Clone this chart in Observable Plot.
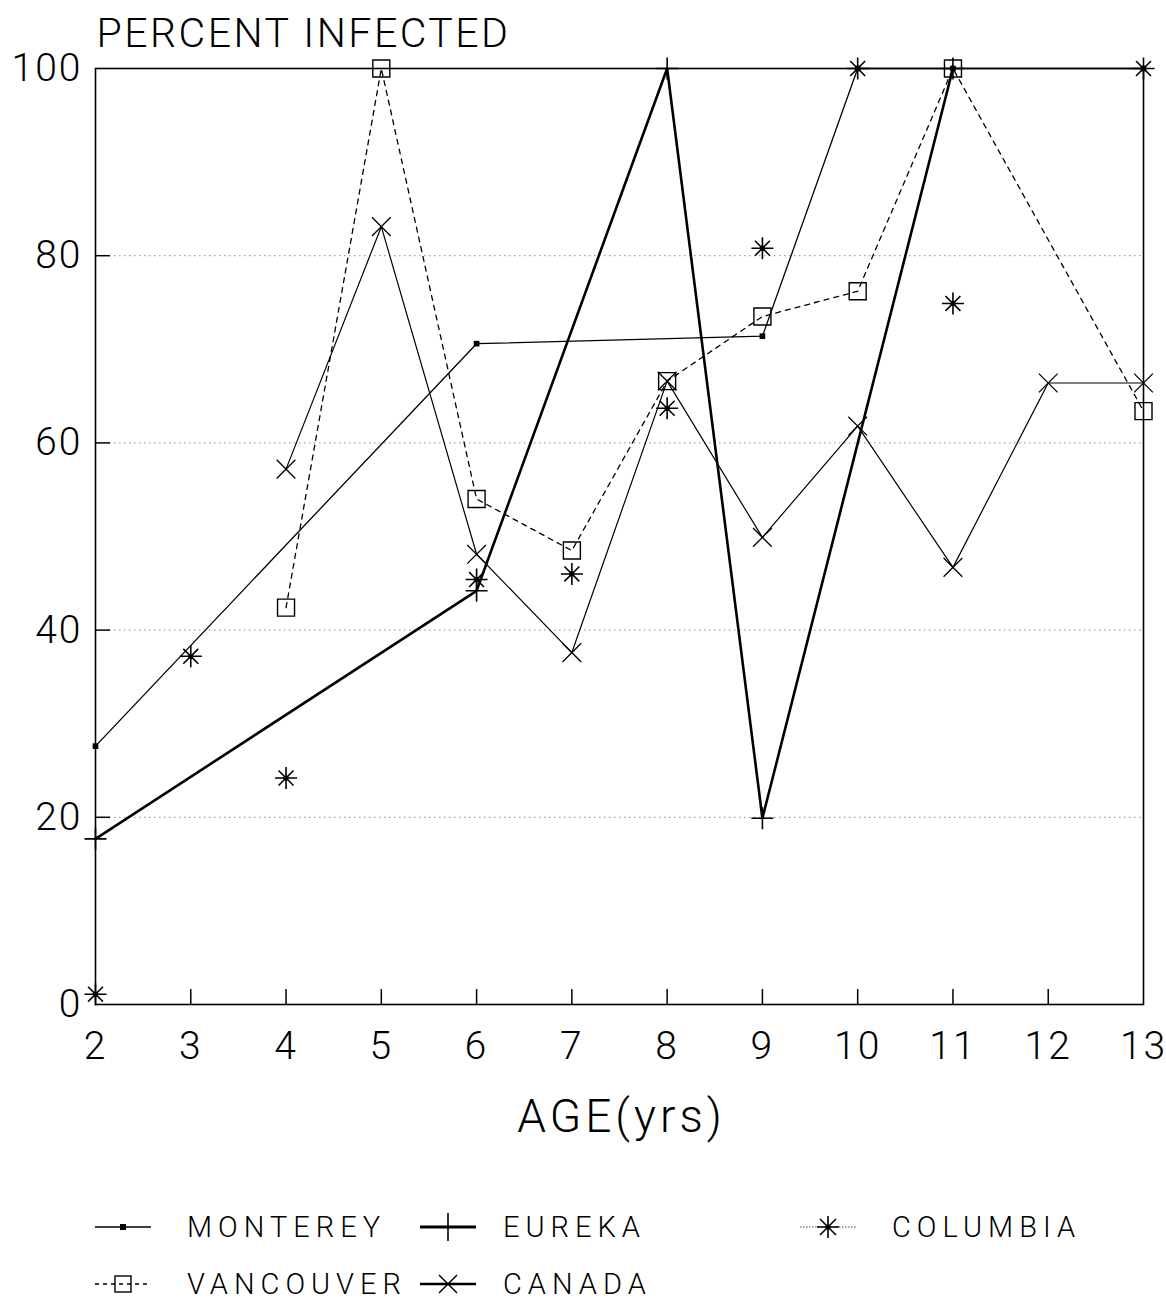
<!DOCTYPE html>
<html><head><meta charset="utf-8">
<script src="https://cdn.jsdelivr.net/npm/d3@7"></script>
<script src="https://cdn.jsdelivr.net/npm/@observablehq/plot@0.6"></script>
<style>
body{margin:0;background:#fff;}
#chart{position:relative;width:1166px;height:1308px;font-family:Roboto,"Liberation Sans",sans-serif;font-weight:300;color:#000;}
.leg{position:absolute;display:flex;align-items:center;font-size:29px;letter-spacing:6px;height:40px;}
.leg svg{flex:none;}
</style></head><body><div id="chart"></div>
<script>
// ---- data ----
const ages = [2,3,4,5,6,7,8,9,10,11,12,13];
const yTicks = [0,20,40,60,80,100];
const gridVals = [20,40,60,80];
const montereyAge = [2,6,9,10,11,13];
const montereyPct = [27.6,70.6,71.4,100,100,100];
const eurekaAge = [2,6,8,9,11];
const eurekaPct = [17.7,44.2,100,19.9,100];
const vancouverAge = [4,5,6,7,8,9,10,11,13];
const vancouverPct = [42.4,100,54.0,48.5,66.6,73.5,76.2,100,63.4];
const canadaAge = [4,5,6,7,8,9,10,11,12,13];
const canadaPct = [57.2,83.1,48.1,37.6,66.6,49.9,61.8,46.7,66.4,66.4];
const columbiaAge = [2,3,4,6,7,8,9,10,11,13];
const columbiaPct = [1.1,37.2,24.2,45.4,46.0,63.7,80.8,100,74.9,100];
const seriesNames = ["MONTEREY","EUREKA","COLUMBIA","VANCOUVER","CANADA"];
const titleText = "PERCENT INFECTED";
const xTitle = "AGE(yrs)";

const mk = (a, p) => a.map((age, i) => ({age, pct: p[i]}));
const monterey = mk(montereyAge, montereyPct);
const eureka = mk(eurekaAge, eurekaPct);
const vancouver = mk(vancouverAge, vancouverPct);
const canada = mk(canadaAge, canadaPct);
const columbia = mk(columbiaAge, columbiaPct);

// ---- custom symbols ----
const rad = s => Math.sqrt(s / Math.PI);
const plusSym = {draw(c, s){const r = rad(s); c.moveTo(-r,0); c.lineTo(r,0); c.moveTo(0,-r); c.lineTo(0,r);}};
const xSym = {draw(c, s){const r = rad(s)*0.72; c.moveTo(-r,-r); c.lineTo(r,r); c.moveTo(-r,r); c.lineTo(r,-r);}};
const starSym = {draw(c, s){const r = rad(s), d = r*0.68; c.moveTo(-r,0); c.lineTo(r,0); c.moveTo(0,-r); c.lineTo(0,r); c.moveTo(-d,-d); c.lineTo(d,d); c.moveTo(-d,d); c.lineTo(d,-d);}};
const boxSym = {draw(c, s){const r = rad(s); c.rect(-r,-r,2*r,2*r);}};

const W = 1166, H = 1160, ML = 95, MR = 23, MT = 68, MB = 156;
const PW = W - ML - MR, PH = H - MT - MB;

const chart = Plot.plot({
  width: W, height: H,
  marginLeft: ML, marginRight: MR, marginTop: MT, marginBottom: MB,
  style: {fontFamily: "Roboto, 'Liberation Sans', sans-serif", fontWeight: 300, background: "white", color: "black", overflow: "visible"},
  x: {domain: [2, 13]},
  y: {domain: [0, 100]},
  marks: [
    Plot.ruleY(gridVals, {stroke: "#8a8a8a", strokeWidth: 1, strokeDasharray: "1.5,3.5", insetLeft: 14}),
    Plot.tickY(gridVals, {stroke: "black", strokeWidth: 1.5, insetRight: PW - 15}),
    Plot.tickX(ages.slice(1, -1), {stroke: "black", strokeWidth: 1.5, insetTop: PH - 15}),
    Plot.frame({stroke: "black", strokeWidth: 1.6}),
    Plot.axisY(yTicks, {tickSize: 0, tickPadding: 13, fontSize: 39, label: null, fill: "black"}),
    Plot.axisX(ages, {tickSize: 0, tickPadding: 27, fontSize: 39, label: null, fill: "black"}),
    Plot.line(monterey, {x: "age", y: "pct", stroke: "black", strokeWidth: 1.3}),
    Plot.line(eureka, {x: "age", y: "pct", stroke: "black", strokeWidth: 2.6}),
    Plot.line(vancouver, {x: "age", y: "pct", stroke: "black", strokeWidth: 1.3, strokeDasharray: "5,5"}),
    Plot.line(canada, {x: "age", y: "pct", stroke: "black", strokeWidth: 1.2}),
    Plot.dot(monterey, {x: "age", y: "pct", symbol: "square", r: 3.2, fill: "black", stroke: "none"}),
    Plot.dot(eureka, {x: "age", y: "pct", symbol: plusSym, r: 11, fill: "none", stroke: "black", strokeWidth: 1.6}),
    Plot.dot(vancouver, {x: "age", y: "pct", symbol: boxSym, r: 8.5, fill: "none", stroke: "black", strokeWidth: 1.4}),
    Plot.dot(canada, {x: "age", y: "pct", symbol: xSym, r: 13, fill: "none", stroke: "black", strokeWidth: 1.3}),
    Plot.dot(columbia, {x: "age", y: "pct", symbol: starSym, r: 11, fill: "none", stroke: "black", strokeWidth: 1.6}),
    Plot.dot(columbia, {x: "age", y: "pct", r: 2.6, fill: "black", stroke: "none"}),
    Plot.text([titleText], {frameAnchor: "top-left", textAnchor: "start", lineAnchor: "middle", dy: -35, dx: 1, fontSize: 41, fill: "black"}),
    Plot.text([xTitle], {frameAnchor: "bottom", lineAnchor: "middle", dy: 113, dx: 2, fontSize: 46, fill: "black"})
  ]
});
const svgSel = d3.select(chart);
svgSel.selectAll("text").attr("letter-spacing", "2px");
svgSel.selectAll("text").filter(function(){ return this.textContent === titleText; }).attr("letter-spacing", "2.5px");
svgSel.selectAll("text").filter(function(){ return this.textContent === xTitle; }).attr("letter-spacing", "4px");
const root = document.getElementById("chart");
root.appendChild(chart);

// ---- legend ----
const legendPos = [
  {left: 95, top: 1207}, {left: 420, top: 1207}, {left: 800, top: 1207},
  {left: 95, top: 1264}, {left: 420, top: 1264}
];
const swatch = [
  g => { g.append("line").attr("x1",0).attr("x2",56).attr("y1",20).attr("y2",20).attr("stroke","black").attr("stroke-width",1.5);
         g.append("rect").attr("x",25).attr("y",17).attr("width",6).attr("height",6).attr("fill","black"); },
  g => { g.append("line").attr("x1",0).attr("x2",56).attr("y1",20).attr("y2",20).attr("stroke","black").attr("stroke-width",2.8);
         g.append("path").attr("d","M28,6V34").attr("stroke","black").attr("stroke-width",1.6); },
  g => { g.append("line").attr("x1",0).attr("x2",56).attr("y1",20).attr("y2",20).attr("stroke","#555").attr("stroke-width",1).attr("stroke-dasharray","1.5,1.5");
         g.append("path").attr("d","M17,20H39M28,9V31M20,12L36,28M20,28L36,12").attr("stroke","black").attr("stroke-width",1.6);
         g.append("circle").attr("cx",28).attr("cy",20).attr("r",2.6).attr("fill","black"); },
  g => { g.append("line").attr("x1",0).attr("x2",56).attr("y1",20).attr("y2",20).attr("stroke","black").attr("stroke-width",1.3).attr("stroke-dasharray","4,4");
         g.append("rect").attr("x",20).attr("y",12).attr("width",16).attr("height",16).attr("fill","none").attr("stroke","black").attr("stroke-width",1.4); },
  g => { g.append("line").attr("x1",0).attr("x2",56).attr("y1",20).attr("y2",20).attr("stroke","black").attr("stroke-width",2.6);
         g.append("path").attr("d","M19,11L37,29M19,29L37,11").attr("stroke","black").attr("stroke-width",1.5); }
];
seriesNames.forEach((name, i) => {
  const div = d3.select(root).append("div").attr("class","leg")
    .style("left", legendPos[i].left + "px").style("top", legendPos[i].top + "px");
  const svg = div.append("svg").attr("width",56).attr("height",40);
  swatch[i](svg);
  div.append("span").style("margin-left", (i === 1 || i === 4 ? 27 : 36) + "px").text(name);
});
</script>
</body></html>
